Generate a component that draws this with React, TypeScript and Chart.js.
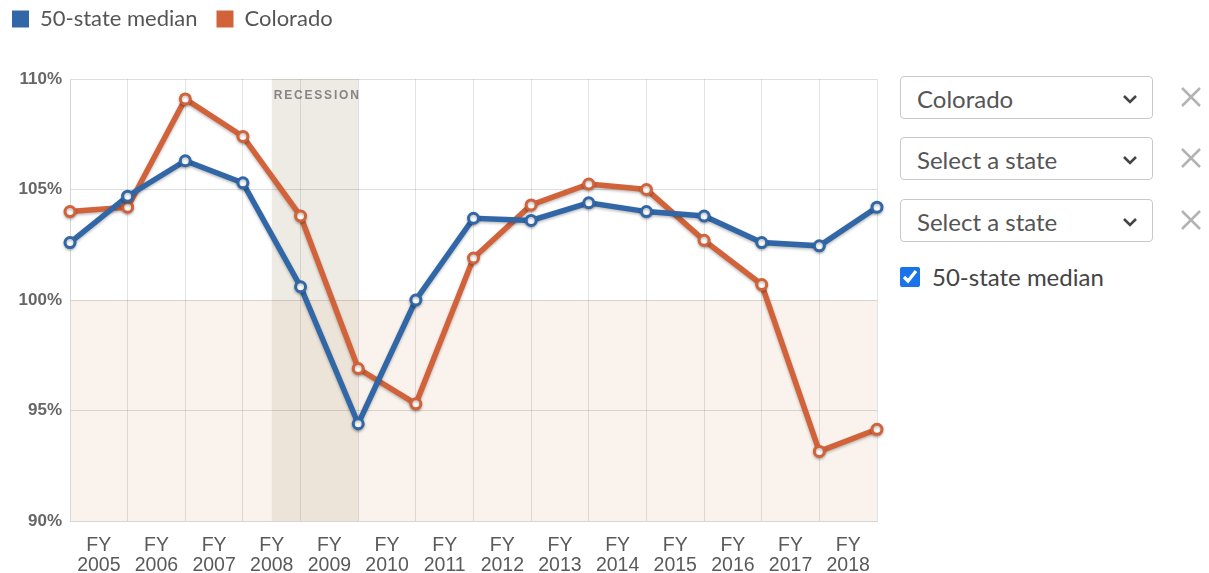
import React, { useEffect, useRef } from 'react';
import { Chart, registerables } from 'chart.js';

Chart.register(...registerables);

// 15 boundary points (start/end of each fiscal year period)
const pointLabels = ['P0', 'P1', 'P2', 'P3', 'P4', 'P5', 'P6', 'P7', 'P8', 'P9', 'P10', 'P11', 'P12', 'P13', 'P14'];
const tickYears = ['2005', '2006', '2007', '2008', '2009', '2010', '2011', '2012', '2013', '2014', '2015', '2016', '2017', '2018'];
const medianValues = [102.6, 104.7, 106.3, 105.3, 100.6, 94.4, 100.0, 103.7, 103.6, 104.4, 104.0, 103.8, 102.6, 102.45, 104.2];
const coloradoValues = [104.0, 104.2, 109.1, 107.4, 103.8, 96.9, 95.3, 101.9, 104.3, 105.25, 105.0, 102.7, 100.7, 93.15, 94.15];
const yMin = 90;
const yMax = 110;
const yStep = 5;
const recessionStartIndex = 3.5;
const recessionEndIndex = 5;
const baselineValue = 100;

const BLUE = '#3167a7';
const ORANGE = '#d1623a';

const xTickLabels = tickYears.map((y) => ['FY', y]);

const CANVAS_TOP = -11;
const LEGEND_HEIGHT = 90;

const legendSpacePlugin = {
  id: 'legendSpace',
  beforeInit(chart: any) {
    const legend = chart.legend;
    if (!legend) return;
    const origFit = legend.fit;
    legend.fit = function () {
      origFit.call(this);
      this.height = LEGEND_HEIGHT;
    };
  },
};

const bgPlugin = {
  id: 'bgRegions',
  beforeDraw(chart: any) {
    const { ctx, chartArea: a, scales } = chart;
    const x = scales.x;
    const y = scales.y;
    const y100 = y.getPixelForValue(baselineValue);
    const i0 = Math.floor(recessionStartIndex);
    const xs = x.getPixelForValue(i0) + (x.getPixelForValue(i0 + 1) - x.getPixelForValue(i0)) * (recessionStartIndex - i0);
    const xe = x.getPixelForValue(recessionEndIndex);
    ctx.save();
    ctx.fillStyle = '#faf3ed';
    ctx.fillRect(a.left, y100, a.right - a.left, a.bottom - y100);
    ctx.fillStyle = '#eeebe4';
    ctx.fillRect(xs, a.top, xe - xs, y100 - a.top);
    ctx.fillStyle = '#ede4d9';
    ctx.fillRect(xs, y100, xe - xs, a.bottom - y100);
    ctx.fillStyle = '#858585';
    ctx.font = 'bold 12px "Liberation Sans"';
    try { (ctx as any).letterSpacing = '1.8px'; } catch (e) {}
    ctx.textBaseline = 'middle';
    ctx.textAlign = 'left';
    ctx.fillText('RECESSION', xs + 2, a.top + 17);
    ctx.restore();
  },
};

const shadowPlugin = {
  id: 'lineShadow',
  beforeDatasetDraw(chart: any) {
    const ctx = chart.ctx;
    ctx.save();
    ctx.shadowColor = 'rgba(0,0,0,0.28)';
    ctx.shadowBlur = 3;
    ctx.shadowOffsetY = 1.5;
  },
  afterDatasetDraw(chart: any) {
    chart.ctx.restore();
  },
};

function ChartCanvas() {
  const ref = useRef<HTMLCanvasElement>(null);
  useEffect(() => {
    if (!ref.current) return;
    const chart = new Chart(ref.current, {
      type: 'line',
      data: {
        labels: pointLabels,
        datasets: [
          {
            label: '50-state median',
            data: medianValues,
            borderColor: BLUE,
            backgroundColor: BLUE,
            borderWidth: 5.5,
            pointRadius: 5,
            pointBorderWidth: 3,
            pointBackgroundColor: '#ffffff',
            pointBorderColor: BLUE,
            tension: 0,
          },
          {
            label: 'Colorado',
            data: coloradoValues,
            borderColor: ORANGE,
            backgroundColor: ORANGE,
            borderWidth: 5.5,
            pointRadius: 5,
            pointBorderWidth: 3,
            pointBackgroundColor: '#ffffff',
            pointBorderColor: ORANGE,
            tension: 0,
          },
        ],
      },
      options: {
        responsive: false,
        animation: false,
        layout: { padding: { left: 0, right: 11, top: 0, bottom: 0 } },
        plugins: {
          tooltip: { enabled: false },
          legend: {
            position: 'top',
            align: 'start',
            labels: {
              boxWidth: 17,
              boxHeight: 17,
              padding: 19,
              color: '#555',
              font: { family: 'Lato', size: 22 },
              generateLabels: (c: any) =>
                (Chart.defaults.plugins.legend.labels as any).generateLabels(c).map((l: any) => ({ ...l, lineWidth: 0 })),
            },
          },
        },
        scales: {
          x: {
            type: 'category',
            labels: pointLabels,
            offset: false,
            grid: { color: 'rgba(0,0,0,0.11)', drawTicks: false },
            border: { color: '#d6d6d6' },
            ticks: { display: false },
            afterFit: (s: any) => { s.height = 0; },
          },
          x2: {
            type: 'category',
            labels: xTickLabels as any,
            offset: true,
            position: 'bottom',
            grid: { display: false, drawTicks: false },
            border: { display: false },
            ticks: {
              color: '#5a5a5a',
              font: { family: 'Liberation Sans', size: 19.5, lineHeight: 1.0 },
              padding: 15,
              maxRotation: 0,
              autoSkip: false,
            },
            afterFit: (s: any) => { s.height = 52; },
          },
          y: {
            min: yMin,
            max: yMax,
            ticks: {
              stepSize: yStep,
              callback: (v: any) => v + '%',
              color: '#666',
              font: { family: 'Liberation Sans', size: 17, weight: 'bold' },
              padding: 8,
            },
            grid: { color: 'rgba(0,0,0,0.13)', drawTicks: false },
            border: { color: '#d6d6d6' },
            afterFit: (s: any) => { s.width = 77; },
          },
        },
      } as any,
      plugins: [legendSpacePlugin, bgPlugin, shadowPlugin],
    });
    return () => chart.destroy();
  }, []);
  return (
    <canvas
      ref={ref}
      width={895}
      height={573 - CANVAS_TOP}
      style={{ position: 'absolute', left: -7, top: CANVAS_TOP, width: 895, height: 573 - CANVAS_TOP }}
    />
  );
}

const selectStyle: React.CSSProperties = {
  position: 'absolute',
  left: 900,
  width: 253,
  height: 43,
  boxSizing: 'border-box',
  border: '1px solid #c9c9c9',
  borderRadius: 4,
  background: '#fff',
  fontFamily: 'Lato',
  fontSize: 24,
  color: '#555',
  paddingLeft: 16,
  paddingTop: 2,
  display: 'flex',
  alignItems: 'center',
};

function Chevron() {
  return (
    <svg width="16" height="10" style={{ position: 'absolute', right: 14, top: 17 }}>
      <polyline points="2,2 8,8 14,2" fill="none" stroke="#444" strokeWidth="2.6" />
    </svg>
  );
}

function CloseIcon({ top }: { top: number }) {
  return (
    <svg width="22" height="22" style={{ position: 'absolute', left: 1180, top }}>
      <line x1="2" y1="2" x2="20" y2="20" stroke="#b3b3b3" strokeWidth="2.5" />
      <line x1="20" y1="2" x2="2" y2="20" stroke="#b3b3b3" strokeWidth="2.5" />
    </svg>
  );
}

const selectRows = [
  { label: 'Colorado', top: 76 },
  { label: 'Select a state', top: 137 },
  { label: 'Select a state', top: 199 },
];

export default function App() {
  return (
    <div style={{ position: 'fixed', left: 0, top: 0, width: 1209, height: 573, background: '#fff', overflow: 'hidden' }}>
      <ChartCanvas />
      {selectRows.map((r, i) => (
        <React.Fragment key={i}>
          <div style={{ ...selectStyle, top: r.top }}>
            {r.label}
            <Chevron />
          </div>
          <CloseIcon top={r.top + 10} />
        </React.Fragment>
      ))}
      <input
        type="checkbox"
        defaultChecked
        style={{ position: 'absolute', left: 900, top: 267, width: 20, height: 20, margin: 0, accentColor: '#1a73e8' }}
      />
      <div style={{ position: 'absolute', left: 932, top: 262, fontFamily: 'Lato', fontSize: 24, color: '#444', lineHeight: '30px' }}>
        50-state median
      </div>
    </div>
  );
}
